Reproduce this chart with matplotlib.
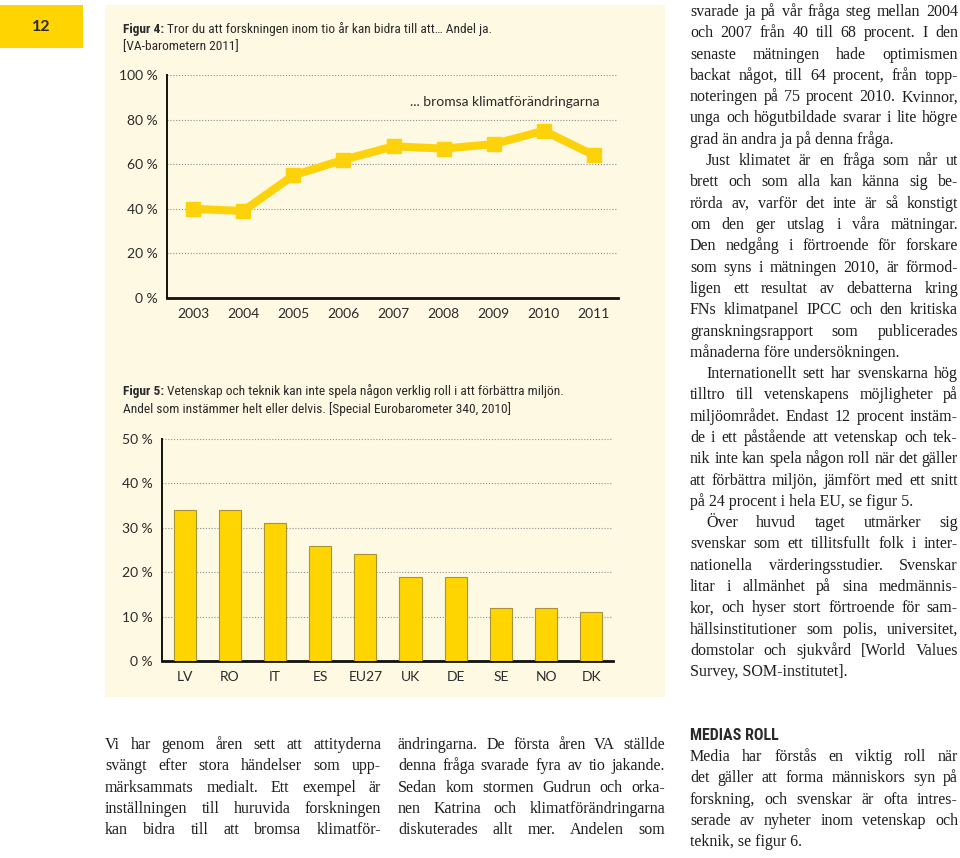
import matplotlib
matplotlib.use("Agg")
import matplotlib.pyplot as plt
from matplotlib.patches import Rectangle

# ---------------- data ----------------
years = [2003, 2004, 2005, 2006, 2007, 2008, 2009, 2010, 2011]
share_yes = [40, 39, 55, 62, 68, 67, 69, 75, 64]
line_yticks = [0, 20, 40, 60, 80, 100]

countries = ["LV", "RO", "IT", "ES", "EU27", "UK", "DE", "SE", "NO", "DK"]
share_agree = [34, 34, 31, 26, 24, 19, 19, 12, 12, 11]
bar_yticks = [0, 10, 20, 30, 40, 50]

page_number = "12"
fig4_bold = "Figur 4:"
fig4_rest = "Tror du att forskningen inom tio år kan bidra till att… Andel ja."
fig4_line2 = "[VA-barometern 2011]"
series_label = "... bromsa klimatförändringarna"
fig5_bold = "Figur 5:"
fig5_rest = "Vetenskap och teknik kan inte spela någon verklig roll i att förbättra miljön."
fig5_line2 = "Andel som instämmer helt eller delvis. [Special Eurobarometer 340, 2010]"

right_col = [
    ("svarade ja på vår fråga steg mellan 2004", 0, True),
    ("och 2007 från 40 till 68 procent. I den", 0, True),
    ("senaste mätningen hade optimismen", 0, True),
    ("backat något, till 64 procent, från topp-", 0, True),
    ("noteringen på 75 procent 2010. Kvinnor,", 0, True),
    ("unga och högutbildade svarar i lite högre", 0, True),
    ("grad än andra ja på denna fråga.", 0, False),
    ("Just klimatet är en fråga som når ut", 1, True),
    ("brett och som alla kan känna sig be-", 0, True),
    ("rörda av, varför det inte är så konstigt", 0, True),
    ("om den ger utslag i våra mätningar.", 0, True),
    ("Den nedgång i förtroende för forskare", 0, True),
    ("som syns i mätningen 2010, är förmod-", 0, True),
    ("ligen ett resultat av debatterna kring", 0, True),
    ("FNs klimatpanel IPCC och den kritiska", 0, True),
    ("granskningsrapport som publicerades", 0, True),
    ("månaderna före undersökningen.", 0, False),
    ("Internationellt sett har svenskarna hög", 1, True),
    ("tilltro till vetenskapens möjligheter på", 0, True),
    ("miljöområdet. Endast 12 procent instäm-", 0, True),
    ("de i ett påstående att vetenskap och tek-", 0, True),
    ("nik inte kan spela någon roll när det gäller", 0, True),
    ("att förbättra miljön, jämfört med ett snitt", 0, True),
    ("på 24 procent i hela EU, se figur 5.", 0, False),
    ("Över huvud taget utmärker sig", 1, True),
    ("svenskar som ett tillitsfullt folk i inter-", 0, True),
    ("nationella värderingsstudier. Svenskar", 0, True),
    ("litar i allmänhet på sina medmännis-", 0, True),
    ("kor, och hyser stort förtroende för sam-", 0, True),
    ("hällsinstitutioner som polis, universitet,", 0, True),
    ("domstolar och sjukvård [World Values", 0, True),
    ("Survey, SOM-institutet].", 0, False),
]
bottom_left_col = [
    "Vi har genom åren sett att attityderna",
    "svängt efter stora händelser som upp-",
    "märksammats medialt. Ett exempel är",
    "inställningen till huruvida forskningen",
    "kan bidra till att bromsa klimatför-",
]
bottom_mid_col = [
    "ändringarna. De första åren VA ställde",
    "denna fråga svarade fyra av tio jakande.",
    "Sedan kom stormen Gudrun och orka-",
    "nen Katrina och klimatförändringarna",
    "diskuterades allt mer. Andelen som",
]
media_heading = "MEDIAS ROLL"
media_col = [
    ("Media har förstås en viktig roll när", True),
    ("det gäller att forma människors syn på", True),
    ("forskning, och svenskar är ofta intres-", True),
    ("serade av nyheter inom vetenskap och", True),
    ("teknik, se figur 6.", False),
]

# ---------------- style ----------------
YELLOW = "#FDD20A"
BAR_YELLOW = "#FFD500"
PANEL = "#FEF9E3"
DARK = "#2a2a2a"
CHART_FONT = ["Lato", "DejaVu Sans"]
COND_FONT = ["Liberation Sans Narrow", "Roboto Condensed", "Noto Sans", "DejaVu Sans"]
SERIF = ["Liberation Serif", "DejaVu Serif"]

W, H = 960, 858
fig = plt.figure(figsize=(W / 100, H / 100), dpi=100)
fig.patch.set_facecolor("white")
renderer = fig.canvas.get_renderer()


def fx(x):
    return x / W


def fy(y):
    return 1 - y / H


def width_of(t):
    return t.get_window_extent(renderer).width


# background panel and page number box
fig.patches.append(Rectangle((fx(105), fy(697)), (665 - 105) / W, (697 - 5) / H,
                             transform=fig.transFigure, facecolor=PANEL,
                             edgecolor="none", zorder=-5))
fig.patches.append(Rectangle((0, fy(48)), 83 / W, (48 - 5) / H,
                             transform=fig.transFigure, facecolor="#FFD400",
                             edgecolor="none", zorder=-5))
fig.text(fx(41), fy(27), page_number, ha="center", va="center", fontsize=11.5,
         family=CHART_FONT, fontweight="bold", color=DARK)


def cond_text(x, y, s, size, weight="normal", stretch="condensed"):
    return fig.text(fx(x), fy(y), s, ha="left", va="center", fontsize=size,
                    family=COND_FONT, fontstretch=stretch, fontweight=weight,
                    color=DARK)


def two_part(x, y, bold, rest, size):
    t = cond_text(x, y, bold, size, "bold")
    w = width_of(t)
    cond_text(x + w + 3, y, rest, size)


TITLE_SIZE = 9.6
two_part(123, 29, fig4_bold, fig4_rest, TITLE_SIZE)
cond_text(123, 47, fig4_line2, TITLE_SIZE)
two_part(123, 391, fig5_bold, fig5_rest, TITLE_SIZE)
cond_text(123, 409, fig5_line2, TITLE_SIZE)


def style_axes(ax, yticks):
    ax.set_facecolor("none")
    ax.set_zorder(2)
    for s in ("top", "right"):
        ax.spines[s].set_visible(False)
    ax.spines["left"].set_linewidth(1.4)
    ax.spines["bottom"].set_linewidth(2.0)
    ax.spines["left"].set_color("#111111")
    ax.spines["bottom"].set_color("#111111")
    ax.set_yticks(yticks)
    ax.set_yticklabels([f"{v} %" for v in yticks])
    ax.tick_params(length=0, labelsize=10, colors=DARK)
    ax.tick_params(axis="y", pad=7)
    ax.tick_params(axis="x", pad=7)
    for lab in ax.get_xticklabels() + ax.get_yticklabels():
        lab.set_family(CHART_FONT)
    for v in yticks[1:]:
        ax.axhline(v, color="#8f8f8f", lw=0.8, ls=(0, (1, 1.6)), zorder=1)


# ---------------- Figure 4: line chart ----------------
ax1 = fig.add_axes([fx(167), fy(298), (618 - 167) / W, (298 - 75) / H])
ax1.set_xlim(years[0] - 0.52, years[-1] + 0.48)
ax1.set_ylim(0, 100)
ax1.set_xticks(years)
ax1.set_xticklabels([str(y) for y in years])
style_axes(ax1, line_yticks)
ax1.plot(years, share_yes, color=YELLOW, lw=5.8, marker="s", ms=10.5,
         solid_joinstyle="miter", zorder=3, clip_on=False)
fig.text(fx(599), fy(102), series_label, ha="right", va="center", fontsize=10,
         family=CHART_FONT, color=DARK)

# ---------------- Figure 5: bar chart ----------------
ax2 = fig.add_axes([fx(162), fy(661), (613 - 162) / W, (661 - 439) / H])
xpos = list(range(len(countries)))
ax2.set_xlim(-0.5, len(countries) - 0.52)
ax2.set_ylim(0, 50)
ax2.bar(xpos, share_agree, width=0.49, color=BAR_YELLOW, edgecolor="#A8923A",
        linewidth=0.8, zorder=3)
ax2.set_xticks(xpos)
ax2.set_xticklabels(countries)
style_axes(ax2, bar_yticks)


# ---------------- body text ----------------
BODY_SIZE = 11.5
LINE_H = 21.3


def justified(x0, x1, y, line, justify=True, indent=0):
    words = line.split()
    kw = dict(ha="left", va="baseline", fontsize=BODY_SIZE, family=SERIF, color="#1e1e1e")
    if not justify or len(words) < 2:
        fig.text(fx(x0 + indent), fy(y), line, **kw)
        return
    ts = [fig.text(0, 0, w, **kw) for w in words]
    ws = [width_of(t) for t in ts]
    gap = (x1 - x0 - indent - sum(ws)) / (len(words) - 1)
    x = x0 + indent
    for t, w in zip(ts, ws):
        t.set_position((fx(x), fy(y)))
        x += w + gap


for i, (line, ind, just) in enumerate(right_col):
    justified(690, 958, 12 + 4 + LINE_H * i, line, just, 16 * ind)

for i, line in enumerate(bottom_left_col):
    justified(105, 381, 745 + 4 + LINE_H * i, line, True)
for i, line in enumerate(bottom_mid_col):
    justified(398, 665, 745 + 4 + LINE_H * i, line, True)

cond_text(690, 735, media_heading, 11.5, "bold")
for i, (line, just) in enumerate(media_col):
    justified(690, 958, 757 + 4 + LINE_H * i, line, just)

fig.savefig("out.png", dpi=100, facecolor="white")
